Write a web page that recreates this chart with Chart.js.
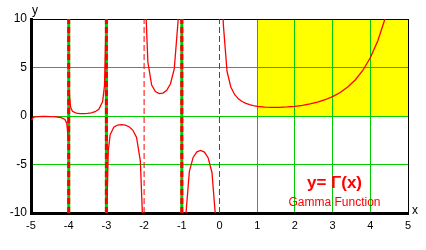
<!DOCTYPE html>
<html>
<head>
<meta charset="utf-8">
<script src="https://cdn.jsdelivr.net/npm/chart.js@4"></script>
<style>
  html, body { margin: 0; padding: 0; background: #fff; }
  #wrap { width: 426px; height: 250px; }
</style>
</head>
<body>
<div id="wrap"><canvas id="gamma-chart" width="426" height="250"></canvas></div>
<script>
// gamma curve, one branch per interval between poles (null = break)
const gammaX = [
    -4.98, -4.95, -4.9, -4.8, -4.7, -4.6, -4.5, -4.4, -4.3, -4.2, -4.1, -4.05, -4.02, null,
    -3.98, -3.95, -3.9, -3.8, -3.7, -3.6, -3.5, -3.4, -3.3, -3.2, -3.1, -3.05, -3.02, null,
    -2.98, -2.95, -2.9, -2.8, -2.7, -2.6, -2.5, -2.4, -2.3, -2.2, -2.1, -2.05, -2.02, null,
    -1.98, -1.95, -1.9, -1.8, -1.7, -1.6, -1.5, -1.4, -1.3, -1.2, -1.1, -1.05, null,
    -0.95, -0.9, -0.8, -0.7, -0.6, -0.5, -0.4, -0.3, -0.2, -0.1, -0.05, null,
    0.05, 0.1, 0.2, 0.3, 0.4, 0.5, 0.6, 0.7, 0.8, 0.9, 1.0, 1.2, 1.4, 1.6, 1.8, 2.0,
    2.2, 2.4, 2.6, 2.8, 3.0, 3.2, 3.4, 3.6, 3.8, 4.0, 4.2, 4.4, 4.6
];
const gammaY = [
    -0.431, -0.182, -0.100, -0.062, -0.054, -0.054, -0.060, -0.074, -0.102, -0.164, -0.364, -0.776, -2.02, null,
    2.148, 0.902, 0.492, 0.300, 0.252, 0.247, 0.270, 0.326, 0.439, 0.689, 1.492, 3.143, 8.134, null,
    -8.55, -3.562, -1.919, -1.139, -0.931, -0.889, -0.945, -1.108, -1.447, -2.205, -4.626, -9.585, -24.56, null,
    25.48, 10.51, 5.564, 3.188, 2.514, 2.311, 2.363, 2.659, 3.329, 4.851, 9.715, 19.65, null,
    -20.49, -10.57, -5.739, -4.274, -3.697, -3.545, -3.723, -4.327, -5.821, -10.69, -20.63, null,
    19.47, 9.514, 4.591, 2.992, 2.218, 1.772, 1.489, 1.298, 1.164, 1.069, 1.0, 0.918, 0.887, 0.894, 0.931, 1.0,
    1.102, 1.242, 1.430, 1.677, 2.0, 2.424, 2.981, 3.717, 4.694, 6.0, 7.757, 10.136, 13.38
];

const poles = [-4, -3, -2, -1, 0];
const boldPoles = [-4, -3, -1];

const xTicks = [-5, 5];   // min, max
const yTicks = [-10, 10];

// shaded region (x from..to, y from..to)
const shadeX = [1, 5];
const shadeY = [0, 10];

const titleText = "y= Γ(x)";
const subtitleText = "Gamma Function";
const textAt = [3.05, -6.9, -8.9];   // x, y of title, y of subtitle (data units)

const RED = "#ff0000";
const GREEN = "#00cc00";

const curvePoints = gammaX.map((x, i) => ({ x: x, y: gammaY[i] }));

function poleSegments(list) {
    const pts = [];
    list.forEach(p => {
        pts.push({ x: p, y: yTicks[0] }, { x: p, y: yTicks[1] }, { x: null, y: null });
    });
    return pts;
}

const shadePlugin = {
    id: "shade",
    beforeDraw(chart) {
        const { ctx, scales } = chart;
        const x1 = scales.x.getPixelForValue(shadeX[0]);
        const x2 = scales.x.getPixelForValue(shadeX[1]);
        const y1 = scales.y.getPixelForValue(shadeY[1]);
        const y2 = scales.y.getPixelForValue(shadeY[0]);
        ctx.save();
        ctx.fillStyle = "#ffff00";
        ctx.fillRect(x1, y1, x2 - x1, y2 - y1);
        ctx.restore();
    }
};

const labelPlugin = {
    id: "labels",
    afterDraw(chart) {
        const { ctx, scales, chartArea } = chart;
        ctx.save();
        ctx.fillStyle = "#000";
        ctx.font = "12px 'Liberation Sans', sans-serif";
        ctx.textBaseline = "bottom";
        ctx.textAlign = "left";
        ctx.fillText("y", chartArea.left + 1, chartArea.top - 2);
        ctx.textBaseline = "middle";
        ctx.fillText("x", chartArea.right + 4, chartArea.bottom - 2);

        ctx.fillStyle = RED;
        ctx.textAlign = "center";
        const tx = scales.x.getPixelForValue(textAt[0]);
        ctx.font = "bold 17px 'Liberation Sans', sans-serif";
        ctx.fillText(titleText, tx, scales.y.getPixelForValue(textAt[1]));
        ctx.font = "12px 'Liberation Sans', sans-serif";
        ctx.fillText(subtitleText, tx, scales.y.getPixelForValue(textAt[2]));
        ctx.restore();
    }
};

// first dataset is drawn on top
new Chart(document.getElementById("gamma-chart"), {
    type: "scatter",
    data: {
        datasets: [
            {
                label: "Gamma",
                data: curvePoints,
                showLine: true,
                borderColor: RED,
                borderWidth: 1.3,
                pointRadius: 0,
                tension: 0,
                spanGaps: false
            },
            {
                label: "poles thin",
                data: poleSegments(poles.filter(p => !boldPoles.includes(p))),
                showLine: true,
                borderColor: RED,
                borderWidth: 1,
                borderDash: [6, 3],
                pointRadius: 0,
                spanGaps: false
            },
            {
                label: "poles bold",
                data: poleSegments(boldPoles),
                showLine: true,
                borderColor: RED,
                borderWidth: 3,
                borderDash: [6, 3],
                pointRadius: 0,
                spanGaps: false
            },
            {
                label: "pole backing",
                data: poleSegments(boldPoles),
                showLine: true,
                borderColor: GREEN,
                borderWidth: 3,
                pointRadius: 0,
                spanGaps: false
            }
        ]
    },
    options: {
        responsive: false,
        animation: false,
        events: [],
        layout: { padding: { top: 19, right: 18, left: 0, bottom: 0 } },
        plugins: {
            legend: { display: false },
            tooltip: { enabled: false }
        },
        scales: {
            x: {
                type: "linear",
                min: xTicks[0],
                max: xTicks[1],
                afterFit(scale) { scale.height = 37; },
                border: { display: true, color: "#000", width: 3 },
                grid: {
                    drawTicks: false,
                    color: ctx => {
                        const v = ctx.tick.value;
                        if (v === xTicks[1]) return "#000";
                        if (poles.includes(v) && !boldPoles.includes(v)) return "rgba(0,0,0,0)";
                        return GREEN;
                    },
                    lineWidth: 1
                },
                ticks: {
                    stepSize: 1,
                    padding: 6,
                    color: "#000",
                    font: { family: "'Liberation Sans', sans-serif", size: 11 }
                }
            },
            y: {
                type: "linear",
                min: yTicks[0],
                max: yTicks[1],
                afterFit(scale) { scale.width = 31; },
                border: { display: true, color: "#000", width: 3 },
                grid: {
                    drawTicks: false,
                    color: ctx => (ctx.tick.value === yTicks[1] ? "#000" : GREEN),
                    lineWidth: 1
                },
                ticks: {
                    stepSize: 5,
                    padding: 4,
                    color: "#000",
                    font: { family: "'Liberation Sans', sans-serif", size: 12 }
                }
            }
        }
    },
    plugins: [shadePlugin, labelPlugin]
});
</script>
</body>
</html>
